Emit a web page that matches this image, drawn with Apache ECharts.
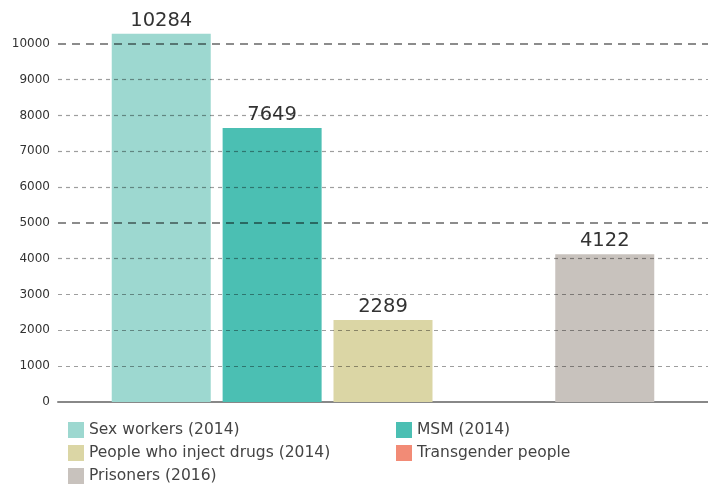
<!DOCTYPE html>
<html>
<head>
<meta charset="utf-8">
<script src="https://cdn.jsdelivr.net/npm/echarts@6/dist/echarts.min.js"></script>
<style>
  html, body { margin: 0; padding: 0; background: #fff; }
  #chart { width: 708px; height: 486px; }
</style>
</head>
<body>
<div id="chart"></div>
<script>
// data
var groups = ['Sex workers (2014)', 'MSM (2014)', 'People who inject drugs (2014)', 'Transgender people', 'Prisoners (2016)'];
var values = [10284, 7649, 2289, null, 4122];
var colors = ['#9dd8d0', '#4bbfb3', '#dbd6a5', '#f28b76', '#c8c2bd'];
var yTicks = [0, 1000, 2000, 3000, 4000, 5000, 6000, 7000, 8000, 9000, 10000];

var font = '"DejaVu Sans", Verdana, sans-serif';
var chart = echarts.init(document.getElementById('chart'));

// minor grid lines: hide the ones at 0, 5000, 10000 and top (drawn by the second axis)
var minorColors = [];
for (var i = 0; i < 12; i++) {
    var v = i * 1000;
    minorColors.push((v % 5000 === 0 || v > yTicks[yTicks.length - 1]) ? 'rgba(0,0,0,0)' : 'rgba(0,0,0,0.38)');
}

var series = groups.map(function (name, i) {
    return {
        name: name,
        type: 'bar',
        barWidth: 99,
        barGap: '12%',
        itemStyle: { color: colors[i] },
        label: {
            show: true,
            position: 'top',
            distance: 3,
            fontFamily: font,
            fontSize: 19.5,
            color: '#333'
        },
        data: [values[i] == null ? '-' : values[i]]
    };
});

function legendBox(names, left) {
    return {
        data: names,
        orient: 'vertical',
        left: left,
        top: 422,
        height: 70,
        padding: 0,
        itemWidth: 16,
        itemHeight: 16,
        itemGap: 7,
        icon: 'rect',
        selectedMode: false,
        textStyle: { fontFamily: font, fontSize: 15.5, color: '#444' }
    };
}

chart.setOption({
    animation: false,
    grid: { left: 58, right: -5, top: 8, bottom: 84 },
    xAxis: {
        type: 'category',
        data: [''],
        axisLine: { lineStyle: { color: '#888', width: 2 } },
        axisTick: { show: false },
        axisLabel: { show: false }
    },
    yAxis: [{
        type: 'value',
        min: 0,
        max: 11000,
        interval: 1000,
        z: 5,
        axisLine: { show: false },
        axisTick: { show: false },
        axisLabel: {
            margin: 8,
            fontFamily: font,
            fontSize: 12,
            color: '#333',
            formatter: function (v) { return v > 10000 ? '' : v; }
        },
        splitLine: { lineStyle: { color: minorColors, type: [4, 4], width: 1.2 } }
    }, {
        type: 'value',
        min: 0,
        max: 11000,
        interval: 5000,
        position: 'left',
        z: 5,
        axisLine: { show: false },
        axisTick: { show: false },
        axisLabel: { show: false },
        splitLine: {
            lineStyle: {
                color: ['rgba(0,0,0,0)', 'rgba(0,0,0,0.45)', 'rgba(0,0,0,0.45)', 'rgba(0,0,0,0)'],
                type: [8, 6],
                width: 1.8
            }
        }
    }],
    legend: [
        legendBox([groups[0], groups[2], groups[4]], 68),
        legendBox([groups[1], groups[3]], 396)
    ],
    series: series
});
</script>
</body>
</html>
